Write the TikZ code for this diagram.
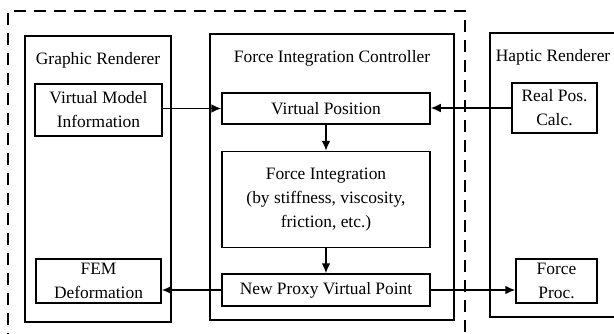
\documentclass[tikz,border=0pt]{standalone}
\usepackage{fontspec}
\setmainfont{Liberation Serif}
\usetikzlibrary{arrows.meta,positioning}

\begin{document}
\begin{tikzpicture}[x=0.5pt,y=-0.5pt,
		font=\fontsize{8.7}{12}\selectfont,
		panel/.style={draw, line width=0.75pt, minimum height=143pt},
		box/.style={draw, line width=0.75pt, inner sep=0pt, align=center},
		title/.style={inner sep=0pt},
		every edge/.style={draw, -{Latex[length=5pt,width=4.4pt]}, line width=0.75pt}]
		\clip (0,0) rectangle (614,333);
		% Panels
		\node (gr) [panel, minimum width=73pt] at (98,179) {};
		\node (fic) [panel, minimum width=122pt] at (332,177) {};
		\node (hr) [panel, minimum width=75pt, minimum height=142pt] at (565,175) {};
		\node (grt) [title] at (98,60) {Graphic Renderer};
		\node (fict) [title] at (332,58) {Force Integration Controller};
		\node (hrt) [title] at (553,57) {Haptic Renderer};
		\draw[line width=1pt, dash pattern=on 6pt off 4pt] (8,345) -- (8,11) -- (465,11) -- (465,345);
		% Nodes
		\node (vmi) [box, minimum width=63.5pt, minimum height=26pt] at (98.5,110) {Virtual Model\\Information};
		\node (fem) [box, minimum width=62.5pt, minimum height=22pt] at (98.5,281) {FEM\\Deformation};
		\node (vp) [box, minimum width=104pt, minimum height=15.5pt] at (326,108.5) {Virtual Position};
		\node (fi) [box, minimum width=104pt, minimum height=48pt, below=13pt of vp] {Force Integration\\(by stiffness, viscosity,\\friction, etc.)};
		\node (npvp) [box, minimum width=104pt, minimum height=16pt, below=12.5pt of fi] {New Proxy Virtual Point};
		\node (rpc) [box, minimum width=42.5pt, minimum height=25pt] at (554.5,108) {Real Pos.\\Calc.};
		\node (fp) [box, minimum width=40.5pt, minimum height=22pt] at (556.5,281) {Force\\Proc.};
		% Edges
		\draw (vp.west -| vmi.east) edge (vp.west);
		\draw (rpc.west) edge (rpc.west -| vp.east);
		\draw (vp) edge (fi);
		\draw (fi) edge (npvp);
		\draw (npvp.west) edge (npvp.west -| fem.east);
		\draw (npvp.east) edge (npvp.east -| fp.west);
	\end{tikzpicture}
\end{document}
